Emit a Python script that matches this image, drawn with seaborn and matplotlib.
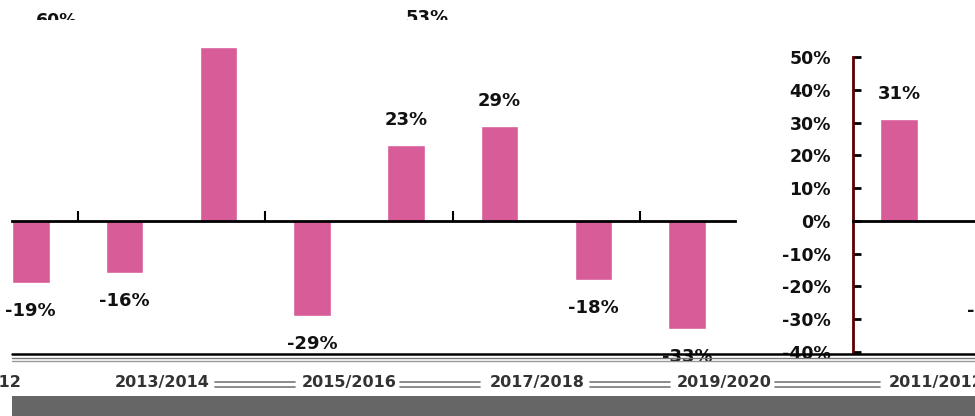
import numpy as np
import pandas as pd
import seaborn as sns
import matplotlib.pyplot as plt
import matplotlib.transforms as mtransforms
from matplotlib.patches import Rectangle
from matplotlib.lines import Line2D

# data (percent change per year)
left_years = ['2012', '2013', '2014', '2015', '2016', '2017', '2018', '2019']
left_values = [-19, -16, 53, -29, 23, 29, -18, -33]
left_groups = ['2011/2012', '2013/2014', '2015/2016', '2017/2018', '2019/2020']

right_years = ['2011', '2012']
right_values = [31, -19]
right_groups = ['2011/2012']

yticks = [-40, -30, -20, -10, 0, 10, 20, 30, 40, 50]

bar_color = '#D75C98'
W, H = 975, 416

sns.set_theme(style='white')
plt.rcParams['font.family'] = ['DejaVu Sans']

fig = plt.figure(figsize=(W / 100, H / 100), dpi=100)
fig.patch.set_facecolor('white')


def px_box(x0, y_top, x1, y_bot):
    # pixel box -> figure fraction [left, bottom, width, height]
    return [x0 / W, 1 - y_bot / H, (x1 - x0) / W, (y_bot - y_top) / H]


# left chart
ax1 = fig.add_axes(px_box(12, 24, 735, 352))
df1 = pd.DataFrame({'year': left_years, 'value': left_values})
sns.barplot(data=df1, x='year', y='value', order=left_years, color=bar_color,
            width=0.4, saturation=1, ax=ax1)
ax1.set_xlim(-0.2, 7.51)
ax1.set_ylim(-40, 60)
for s in ['left', 'right', 'top']:
    ax1.spines[s].set_visible(False)
ax1.spines['bottom'].set_position(('data', 0))
ax1.spines['bottom'].set_color('black')
ax1.spines['bottom'].set_linewidth(2)
ax1.set_xticks([0.5, 2.5, 4.5, 6.5])
ax1.set_xticklabels([])
ax1.tick_params(axis='x', direction='in', length=7, width=1.5, color='black', bottom=True)
ax1.set_yticks([])
ax1.set_xlabel('')
ax1.set_ylabel('')

for i, v in enumerate(left_values):
    if v == 53:
        continue
    off = 18 if v > 0 else -20
    ax1.annotate(f'{v}%', (i, v), xytext=(0, off), textcoords='offset points',
                 ha='center', va='center', fontsize=13, fontweight='bold',
                 color='#111111')

# right chart
ax2 = fig.add_axes(px_box(853, 57, 1100, 352))
df2 = pd.DataFrame({'year': right_years, 'value': right_values})
sns.barplot(data=df2, x='year', y='value', order=right_years, color=bar_color,
            width=0.4, saturation=1, ax=ax2)
ax2.set_xlim(-0.49, 2.145)
ax2.set_ylim(-40, 50)
for s in ['right', 'top']:
    ax2.spines[s].set_visible(False)
ax2.spines['bottom'].set_position(('data', 0))
ax2.spines['bottom'].set_color('black')
ax2.spines['bottom'].set_linewidth(2)
ax2.spines['left'].set_color('#5a0000')
ax2.spines['left'].set_linewidth(2)
ax2.set_yticks(yticks)
ax2.set_yticklabels([f'{v}%' for v in yticks], fontsize=12.5, fontweight='bold',
                    color='#111111')
ax2.tick_params(axis='y', direction='in', length=6, width=2, color='black', pad=16, left=True)
ax2.set_xticks([])
ax2.set_xlabel('')
ax2.set_ylabel('')
for i, v in enumerate(right_values):
    off = 18 if v > 0 else -20
    ax2.annotate(f'{v}%', (i, v), xytext=(0, off), textcoords='offset points',
                 ha='center', va='center', fontsize=13, fontweight='bold',
                 color='#111111', annotation_clip=False)

# category group labels under the charts
tr1 = mtransforms.blended_transform_factory(ax1.transData, fig.transFigure)
for k, lab in enumerate(left_groups):
    fig.text(-0.6 + 2 * k, 1 - 383 / H, lab, transform=tr1, ha='center', va='center',
             fontsize=11.5, fontweight='bold', color='#333333')
tr2 = mtransforms.blended_transform_factory(ax2.transData, fig.transFigure)
for k, lab in enumerate(right_groups):
    fig.text(0.4 + 2 * k, 1 - 383 / H, lab, transform=tr2, ha='center', va='center',
             fontsize=11.5, fontweight='bold', color='#333333')

# clipped leftovers at the top edge
top = fig.add_axes(px_box(0, 0, W, 20))
top.set_axis_off()
top.set_xlim(0, W)
top.set_ylim(20, 0)
top.text(57, 21, '60%', ha='center', va='center', fontsize=12.5, fontweight='bold',
         color='#111111', clip_on=True)
top.text(427, 18, '53%', ha='center', va='center', fontsize=13, fontweight='bold',
         color='#111111', clip_on=True)

# broken rules along the bottom
def hline(y, x0, x1, color, lw):
    fig.add_artist(Line2D([x0 / W, x1 / W], [1 - y / H, 1 - y / H], color=color, lw=lw))

hline(353.5, 12, 975, 'black', 1.8)
hline(357.5, 12, 975, '#777777', 1.0)
hline(361, 12, 975, '#999999', 1.0)
for x0, x1 in [(215, 295), (400, 480), (590, 670), (775, 880)]:
    hline(382, x0, x1, '#777777', 1.2)
    hline(387, x0, x1, '#777777', 1.2)

fig.add_artist(Rectangle((12 / W, 0), (W - 12) / W, 20 / H, transform=fig.transFigure,
                         facecolor='#666666', edgecolor='none'))

fig.savefig('out.png', dpi=100)
